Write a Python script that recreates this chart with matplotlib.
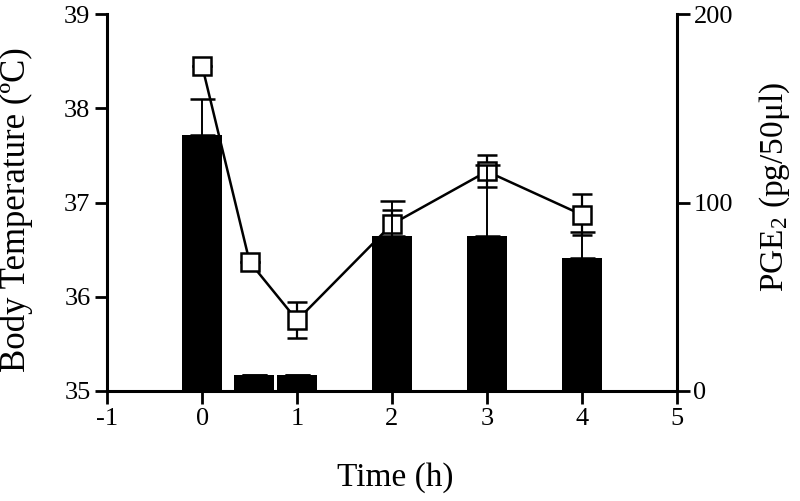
import matplotlib
matplotlib.use("Agg")
import matplotlib.pyplot as plt

plt.rcParams['font.family'] = ['Liberation Serif', 'DejaVu Serif']
plt.rcParams['mathtext.fontset'] = 'custom'
plt.rcParams['mathtext.rm'] = 'Liberation Serif'
plt.rcParams['mathtext.it'] = 'Liberation Serif:italic'
plt.rcParams['axes.unicode_minus'] = False

# Body temperature (line, left axis)
temp_time = [0, 0.5, 1, 2, 3, 4]
temp_vals = [38.45, 36.37, 35.75, 36.77, 37.33, 36.87]
temp_err = [0.0, 0.0, 0.19, 0.15, 0.17, 0.22]

# PGE2 (bars, right axis)
pge_time = [0, 0.55, 1, 2, 3, 4]
pge_vals = [136, 8.5, 8.5, 82, 82, 70.5]
pge_err_up = [19, 0, 0, 19, 38, 14]

x_ticks = [-1, 0, 1, 2, 3, 4, 5]
temp_ticks = [35, 36, 37, 38, 39]
pge_ticks = [0, 100, 200]

fig = plt.figure(figsize=(8, 5.01), dpi=100)
ax = fig.add_axes([0.134, 0.2196, 0.712, 0.7524])
ax2 = ax.twinx()

# line with open squares
ax.errorbar(temp_time, temp_vals, yerr=temp_err, color='black', lw=1.8,
            marker='s', markersize=13, markerfacecolor='white',
            markeredgecolor='black', markeredgewidth=1.8,
            elinewidth=1.6, capsize=7, capthick=1.8, zorder=3)

# bars
ax2.bar(pge_time, pge_vals, width=0.42, color='black', zorder=2)
ax2.errorbar(pge_time, pge_vals, yerr=[[0]*len(pge_vals), pge_err_up],
             fmt='none', ecolor='black', elinewidth=1.4, capsize=9,
             capthick=1.8, zorder=3)

ax.set_xlim(-1, 5)
ax.set_ylim(35, 39)
ax2.set_ylim(0, 200)
ax.set_xticks(x_ticks)
ax.set_yticks(temp_ticks)
ax2.set_yticks(pge_ticks)

for a in (ax, ax2):
    a.spines['top'].set_visible(False)
    for s in ('left', 'right', 'bottom'):
        a.spines[s].set_linewidth(2.2)
        a.spines[s].set_color('black')
    a.tick_params(direction='out', length=9, width=2, labelsize=19, pad=3,
                  colors='black')
ax.spines['right'].set_visible(False)
ax2.spines['left'].set_visible(False)
ax2.spines['bottom'].set_visible(False)

ax.set_xlabel('Time (h)', fontsize=24)
ax.xaxis.set_label_coords(0.505, -0.19)
ax.set_ylabel('Body Temperature (ºC)', fontsize=25)
ax.yaxis.set_label_coords(-0.13, 0.48)
ax2.set_ylabel(r'PGE$_2$ (pg/50μl)', fontsize=24, rotation=90)
ax2.yaxis.set_label_coords(1.142, 0.54)

fig.savefig('out.png', dpi=100)
